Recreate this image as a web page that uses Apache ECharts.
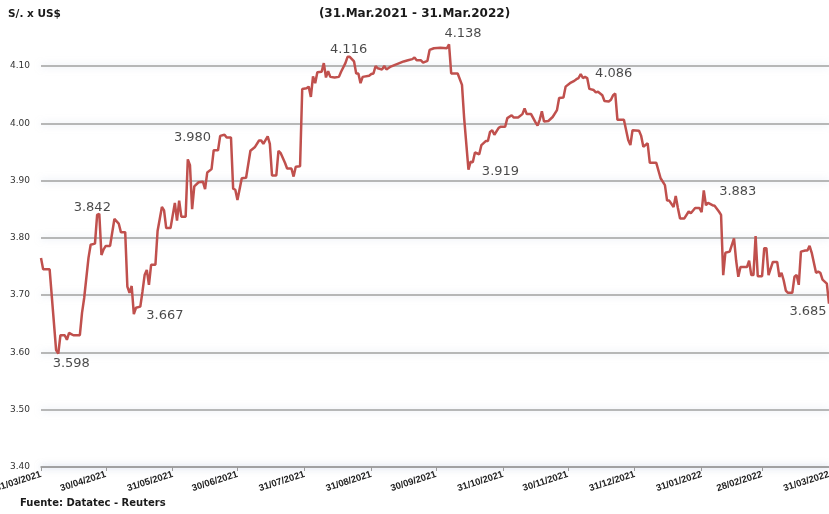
<!DOCTYPE html>
<html>
<head>
<meta charset="utf-8">
<script src="https://cdn.jsdelivr.net/npm/echarts@6/dist/echarts.min.js"></script>
<style>
html,body{margin:0;padding:0;background:#fff;}
#chart{width:829px;height:514px;}
</style>
</head>
<body>
<div id="chart"></div>
<script>
// ---- data ----
const dates = [
'2021-03-31','2021-04-01','2021-04-04','2021-04-07','2021-04-08','2021-04-09','2021-04-11','2021-04-12','2021-04-13','2021-04-14',
'2021-04-15','2021-04-18','2021-04-19','2021-04-20','2021-04-22','2021-04-23','2021-04-25','2021-04-26','2021-04-27','2021-04-28',
'2021-04-29','2021-04-30','2021-05-02','2021-05-04','2021-05-06','2021-05-07','2021-05-09','2021-05-10','2021-05-11','2021-05-12',
'2021-05-13','2021-05-14','2021-05-16','2021-05-17','2021-05-18','2021-05-19','2021-05-20','2021-05-21','2021-05-23','2021-05-24',
'2021-05-26','2021-05-27','2021-05-28','2021-05-30','2021-06-01','2021-06-02','2021-06-03','2021-06-04','2021-06-06','2021-06-07',
'2021-06-08','2021-06-09','2021-06-10','2021-06-12','2021-06-14','2021-06-15','2021-06-16','2021-06-18','2021-06-19','2021-06-21',
'2021-06-22','2021-06-24','2021-06-25','2021-06-27','2021-06-28','2021-06-29','2021-06-30','2021-07-02','2021-07-04','2021-07-06',
'2021-07-08','2021-07-10','2021-07-11','2021-07-12','2021-07-14','2021-07-15','2021-07-16','2021-07-18','2021-07-19','2021-07-20',
'2021-07-22','2021-07-23','2021-07-25','2021-07-26','2021-07-27','2021-07-29','2021-07-30','2021-08-01','2021-08-02','2021-08-03',
'2021-08-04','2021-08-05','2021-08-06','2021-08-08','2021-08-09','2021-08-10','2021-08-11','2021-08-12','2021-08-14','2021-08-16',
'2021-08-17','2021-08-19','2021-08-20','2021-08-21','2021-08-23','2021-08-24','2021-08-25','2021-08-26','2021-08-27','2021-08-30',
'2021-08-31','2021-09-01','2021-09-02','2021-09-03','2021-09-05','2021-09-06','2021-09-07','2021-09-09','2021-09-11','2021-09-13',
'2021-09-15','2021-09-17','2021-09-19','2021-09-20','2021-09-21','2021-09-23','2021-09-24','2021-09-26','2021-09-27','2021-09-29',
'2021-10-02','2021-10-05','2021-10-06','2021-10-07','2021-10-10','2021-10-12','2021-10-13','2021-10-15','2021-10-16','2021-10-17',
'2021-10-18','2021-10-20','2021-10-21','2021-10-23','2021-10-24','2021-10-25','2021-10-26','2021-10-27','2021-10-29','2021-10-30',
'2021-11-01','2021-11-02','2021-11-04','2021-11-05','2021-11-07','2021-11-09','2021-11-10','2021-11-11','2021-11-13','2021-11-15',
'2021-11-16','2021-11-17','2021-11-18','2021-11-19','2021-11-21','2021-11-23','2021-11-25','2021-11-26','2021-11-28','2021-11-29',
'2021-12-01','2021-12-03','2021-12-04','2021-12-05','2021-12-06','2021-12-07','2021-12-08','2021-12-09','2021-12-10','2021-12-12',
'2021-12-13','2021-12-14','2021-12-16','2021-12-17','2021-12-19','2021-12-20','2021-12-21','2021-12-22','2021-12-23','2021-12-26',
'2021-12-28','2021-12-29','2021-12-30','2022-01-02','2022-01-03','2022-01-04','2022-01-06','2022-01-07','2022-01-10','2022-01-12',
'2022-01-14','2022-01-15','2022-01-16','2022-01-18','2022-01-19','2022-01-20','2022-01-21','2022-01-23','2022-01-25','2022-01-26',
'2022-01-28','2022-01-30','2022-01-31','2022-02-01','2022-02-02','2022-02-03','2022-02-05','2022-02-06','2022-02-08','2022-02-09',
'2022-02-10','2022-02-11','2022-02-13','2022-02-15','2022-02-16','2022-02-17','2022-02-18','2022-02-21','2022-02-22','2022-02-23',
'2022-02-24','2022-02-25','2022-02-26','2022-02-28','2022-03-01','2022-03-02','2022-03-03','2022-03-05','2022-03-07','2022-03-08',
'2022-03-09','2022-03-10','2022-03-11','2022-03-12','2022-03-14','2022-03-15','2022-03-16','2022-03-17','2022-03-18','2022-03-20',
'2022-03-21','2022-03-22','2022-03-23','2022-03-25','2022-03-26','2022-03-27','2022-03-28','2022-03-30','2022-03-31'
];
const rates = [
3.765,3.745,3.745,3.604,3.598,3.630,3.630,3.622,3.634,3.632,
3.630,3.630,3.669,3.695,3.765,3.788,3.790,3.840,3.842,3.770,
3.780,3.786,3.786,3.833,3.825,3.810,3.810,3.715,3.704,3.716,
3.667,3.678,3.680,3.706,3.735,3.744,3.718,3.753,3.753,3.812,
3.854,3.848,3.817,3.817,3.861,3.830,3.865,3.837,3.837,3.937,
3.927,3.850,3.890,3.897,3.898,3.885,3.914,3.920,3.953,3.953,
3.978,3.980,3.975,3.975,3.886,3.884,3.866,3.904,3.905,3.952,
3.958,3.970,3.970,3.964,3.977,3.964,3.909,3.909,3.952,3.948,
3.931,3.921,3.921,3.907,3.924,3.925,4.060,4.061,4.064,4.046,
4.082,4.070,4.089,4.090,4.105,4.080,4.091,4.081,4.080,4.081,
4.090,4.105,4.116,4.116,4.108,4.087,4.087,4.070,4.081,4.083,
4.086,4.087,4.100,4.096,4.094,4.100,4.094,4.099,4.102,4.105,
4.108,4.110,4.112,4.115,4.110,4.110,4.106,4.109,4.128,4.131,
4.132,4.131,4.138,4.087,4.087,4.067,4.009,3.919,3.933,3.932,
3.949,3.946,3.962,3.969,3.969,3.985,3.988,3.980,3.992,3.994,
3.994,4.009,4.014,4.010,4.010,4.016,4.026,4.016,4.016,4.002,
3.996,4.006,4.021,4.003,4.004,4.011,4.023,4.044,4.045,4.064,
4.070,4.074,4.077,4.079,4.086,4.079,4.081,4.079,4.060,4.058,
4.054,4.055,4.049,4.039,4.038,4.041,4.049,4.052,4.006,4.006,
3.971,3.962,3.988,3.987,3.978,3.959,3.965,3.931,3.931,3.904,
3.892,3.865,3.865,3.854,3.873,3.852,3.834,3.834,3.846,3.843,
3.852,3.852,3.845,3.883,3.857,3.861,3.857,3.856,3.846,3.840,
3.735,3.774,3.776,3.799,3.760,3.732,3.749,3.749,3.760,3.735,
3.735,3.803,3.733,3.733,3.782,3.782,3.735,3.758,3.758,3.732,
3.739,3.726,3.708,3.704,3.704,3.732,3.735,3.718,3.776,3.778,
3.778,3.786,3.774,3.739,3.741,3.739,3.727,3.720,3.685
];
// annotated points
const annDates  = ['2021-04-08','2021-04-27','2021-05-13','2021-06-24','2021-08-20','2021-10-06','2021-10-15','2021-12-06','2022-02-01','2022-03-31'];
const annValues = [3.598,3.842,3.667,3.980,4.116,4.138,3.919,4.086,3.883,3.685];
// x tick labels (month ends)
const tickLabels = ['31/03/2021','30/04/2021','31/05/2021','30/06/2021','31/07/2021','31/08/2021','30/09/2021','31/10/2021','30/11/2021','31/12/2021','31/01/2022','28/02/2022','31/03/2022'];
const yTicks = [3.40,3.50,3.60,3.70,3.80,3.90,4.00,4.10];

// ---- styling (not data) ----
const annOffsets = [[13,10],[-7,-6],[31,2],[-32,3],[1,-7],[14,-11],[32,2],[33,0],[34,1],[-21,8]];

const DAY = 86400000;
function isoTs(s){const p=s.split('-').map(Number);return Date.UTC(p[0],p[1]-1,p[2]);}
function dmyTs(s){const p=s.split('/').map(Number);return Date.UTC(p[2],p[1]-1,p[0]);}

const lineData = dates.map((d,i)=>[isoTs(d),rates[i]]);
const annData = annDates.map((d,i)=>({value:[isoTs(d),annValues[i]],label:{offset:annOffsets[i]}}));
const tickTs = tickLabels.map(dmyTs);
const labelByTs = {};
tickTs.forEach((t,i)=>{labelByTs[t]=tickLabels[i];});

const chart = echarts.init(document.getElementById('chart'),null,{renderer:'canvas'});
chart.setOption({
  animation:false,
  backgroundColor:'#ffffff',
  graphic:[
    {type:'text',left:8,top:9,style:{text:'S/. x US$',font:'bold 10.5px "DejaVu Sans"',fill:'#1a1a1a'}},
    {type:'text',left:'center',top:8,style:{text:'(31.Mar.2021 - 31.Mar.2022)',font:'bold 12px "DejaVu Sans"',fill:'#1a1a1a'}},
    {type:'text',left:20,top:498,style:{text:'Fuente: Datatec - Reuters',font:'bold 10px "DejaVu Sans"',fill:'#1a1a1a'}}
  ],
  grid:{left:41,right:0,top:66,bottom:47,containLabel:false,outerBoundsMode:'none'},
  xAxis:{
    type:'value',
    min:tickTs[0],max:tickTs[tickTs.length-1],
    splitLine:{show:false},
    axisLine:{show:true,lineStyle:{color:'#9a9a9a',width:1.5,shadowColor:'rgba(170,185,215,0.55)',shadowBlur:6}},
    axisTick:{show:true,customValues:tickTs,length:4,lineStyle:{color:'#9a9a9a'}},
    axisLabel:{
      customValues:tickTs,rotate:18,margin:7,showMinLabel:true,showMaxLabel:true,hideOverlap:false,
      fontFamily:'Liberation Sans',fontWeight:'bold',fontSize:9.5,color:'#222',
      formatter:function(v){
        if(labelByTs[v]) return labelByTs[v];
        const d=new Date(Math.round(v/DAY)*DAY);
        const p=n=>(n<10?'0':'')+n;
        return p(d.getUTCDate())+'/'+p(d.getUTCMonth()+1)+'/'+d.getUTCFullYear();
      }
    }
  },
  yAxis:{
    type:'value',min:yTicks[0],max:yTicks[yTicks.length-1],interval:0.1,
    axisLine:{show:false},axisTick:{show:false},
    axisLabel:{margin:11,fontFamily:'DejaVu Sans',fontSize:9,color:'#333',formatter:function(v){return v.toFixed(2);}},
    splitLine:{show:true,lineStyle:{color:'#a0a0a0',width:1.5,shadowColor:'rgba(170,185,215,0.55)',shadowBlur:7}}
  },
  series:[
    {type:'line',data:lineData,showSymbol:false,symbol:'none',clip:false,
     lineStyle:{color:'#c0504d',width:2.5},z:3},
    {type:'scatter',data:annData,symbolSize:1,itemStyle:{color:'rgba(0,0,0,0)'},clip:false,z:4,
     label:{show:true,position:'inside',align:'center',verticalAlign:'middle',
            fontFamily:'DejaVu Sans',fontSize:13,color:'#1a1a1a',
            formatter:function(p){return p.value[1].toFixed(3);}}}
  ]
});
</script>
</body>
</html>
